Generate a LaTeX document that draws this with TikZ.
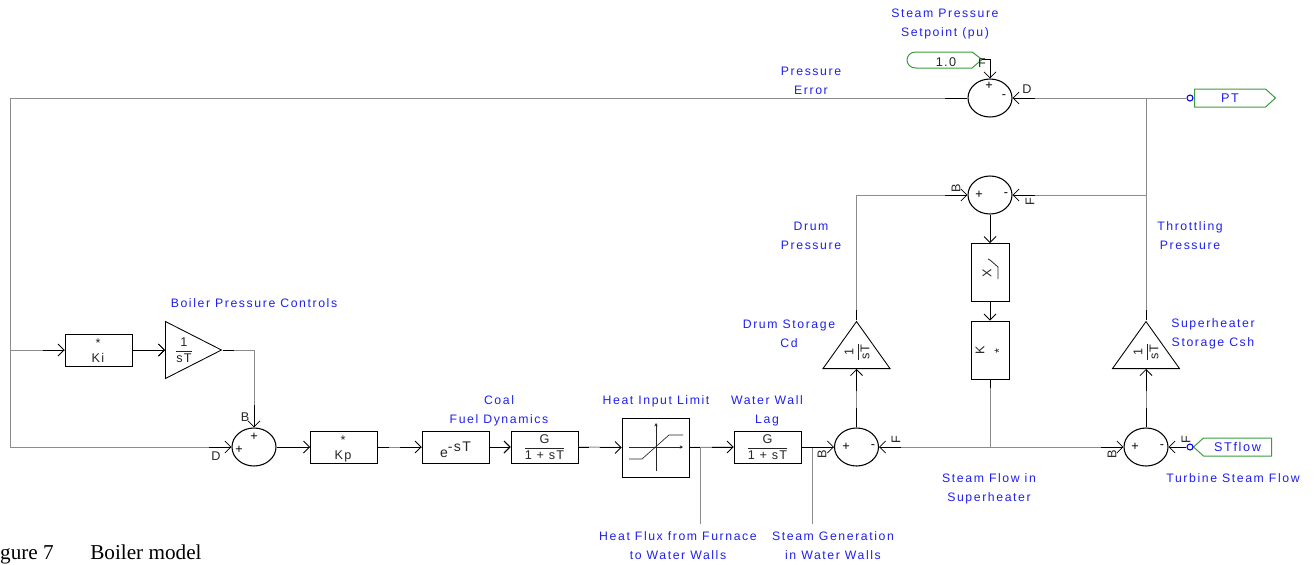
\documentclass[tikz,border=0pt]{standalone}
\usepackage{fontspec}
\setmainfont{Liberation Sans}
\newfontfamily\lblfont[LetterSpace=13]{Liberation Sans}
\newfontfamily\blkfont[LetterSpace=10]{Liberation Sans}
\newfontfamily\capfont{Liberation Serif}
\usetikzlibrary{positioning,arrows.meta,calc,shapes.geometric,shapes.symbols}
\definecolor{lblblue}{HTML}{2020F0}
\definecolor{taggreen}{HTML}{3C9C3C}
\definecolor{wiregrey}{HTML}{8C8C8C}
\definecolor{ink2}{HTML}{262626}
\newcommand{\frc}[2]{$\displaystyle\frac{\mbox{#1}}{\mbox{#2}}$}

\begin{document}
\begin{tikzpicture}[
  x=0.75pt, y=-0.75pt,
  font=\blkfont\fontsize{9.5}{11}\selectfont,
  >={Straight Barb[length=4.5pt,width=9pt,line width=0.6pt]},
  blk/.style={draw=black, line width=0.65pt, minimum width=50.25pt, minimum height=24pt,
              inner sep=0pt, align=center, text=ink2},
  vblk/.style={blk, minimum width=28.5pt, minimum height=43.5pt},
  sumnode/.style={draw=black, line width=0.8pt, ellipse, minimum width=33pt,
                  minimum height=28.5pt, inner sep=0pt},
  tri/.style={draw=black, line width=0.65pt, isosceles triangle, isosceles triangle stretches,
              inner sep=0pt, anchor=lower side},
  wire/.style={draw=wiregrey, line width=0.75pt},
  stb/.style={draw=black, line width=0.75pt},
  ar/.style={->, draw=black, line width=0.75pt},
  lbl/.style={font=\lblfont\fontsize{9.2}{14.25}\selectfont, text=lblblue, align=center, inner sep=0pt},
  sgn/.style={font=\fontsize{9.5}{10}\selectfont, text=black, inner sep=0pt},
  port/.style={font=\fontsize{9.5}{10}\selectfont, text=ink2, inner sep=0pt},
  vport/.style={port, rotate=90},
  sig/.style={draw=taggreen, line width=0.75pt, signal, signal pointer angle=84, inner sep=0pt,
              minimum height=13.5pt, font=\lblfont\fontsize{9.5}{11}\selectfont, text=lblblue},
  pin/.style={draw=blue, line width=0.8pt, circle, fill=white, inner sep=0pt, minimum size=4.5pt}
]
\useasboundingbox (0,0) rectangle (1316,564);

% ==== summing junctions
\node[sumnode] (topsum) at (990,98) {};
\node[sumnode] (midsum) at (990,195) {};
\node[sumnode] (boilsum) at (254,447) {};
\node[sumnode] (drumsum) at (856.5,447) {};
\node[sumnode] (shsum) at (1146,447) {};

% ==== forward path
\node[blk] (ki) at (98.5,350) {};
\node[blk] (kp) at (344,447) {};
\node[blk] (delay) at (455.5,447) {};
\node[blk] (fuel) at (544.5,447) {\frc{G}{1 + sT}};
\node[blk, minimum height=44.25pt] (limit) at (655.5,447.5) {};
\node[blk] (lag) at (767.5,447) {\frc{G}{1 + sT}};
\node[vblk] (root) at (990,272.5) {};
\node[vblk] (gain) at (990,350) {};

% ==== integrators
\node[tri, shape border rotate=0, minimum height=42pt, minimum width=42.75pt] (intc) at (165,350) {};
\node[tri, shape border rotate=90, minimum height=35.25pt, minimum width=50.25pt] (intd) at (856.5,369) {};
\node[tri, shape border rotate=90, minimum height=35.25pt, minimum width=50.25pt] (ints) at (1146,369) {};
\node[text=ink2, inner sep=0pt] (fracc) at (184,350) {\frc{1}{sT}};
\node[text=ink2, inner sep=0pt, rotate=90] (fracd) at (857,352) {\frc{1}{sT}};
\node[text=ink2, inner sep=0pt, rotate=90] (fracs) at (1146,352) {\frc{1}{sT}};

% ==== box texts
\node[text=ink2, inner sep=0pt] (kistar) at (98,343) {*};
\node[text=ink2, inner sep=0pt] (kitxt) at (98,358) {Ki};
\node[text=ink2, inner sep=0pt] (kpstar) at (343,440) {*};
\node[text=ink2, inner sep=0pt] (kptxt) at (343,456) {Kp};
\node[text=ink2, inner sep=0pt, font=\blkfont\fontsize{10.5}{12}\selectfont] (delaytxt) at (455.5,450) {e\raisebox{4.5pt}{-sT}};
\node[text=ink2, inner sep=0pt, rotate=90] (gaink) at (980,350) {K};
\node[text=ink2, inner sep=0pt, rotate=90] (gainstar) at (999,351) {*};
\node[text=ink2, inner sep=0pt, rotate=90] (rootx) at (987,273) {X};
\draw[line width=0.6pt, draw=ink2] (998,279) -- (998,267) -- (990,260) -- (988,259);

% ==== limiter curve
\draw[-{Stealth[length=2.5pt,width=2.5pt]}, line width=0.5pt, draw=ink2] (629,447) -- (683,447);
\draw[-{Stealth[length=2.5pt,width=2.5pt]}, line width=0.5pt, draw=ink2] (656,471) -- (656,423);
\draw[line width=0.5pt, draw=ink2] (629,459) -- (642,459) -- (669,435) -- (683,435);

% ==== tags
\node[sig, signal to=east, minimum width=60.75pt, anchor=west] (pt) at (1194,98) {PT\hspace{10pt}};
\node[sig, signal to=west, minimum width=58.5pt, anchor=east] (stflow) at (1272,447) {STflow};
\node[pin] (ptpin) at (1190,98) {};
\node[pin] (stpin) at (1190,447) {};
\draw[draw=taggreen, line width=0.75pt] (916,52) -- (972,52) -- (982,59.5) -- (972,68) -- (916,68)
     .. controls (904,68) and (904,52) .. (916,52) -- cycle;
\coordinate (sptip) at (982,59.5);
\node[text=ink2, inner sep=0pt] (sptxt) at (946,62) {1.0};

% ==== wire routing points
\coordinate (jtl) at (10,98);
\coordinate (jml) at (10,350);
\coordinate (jbl) at (10,447);
\coordinate (jpt) at (1146,98);
\coordinate (jthr) at (1146,195);
\coordinate (jdrum) at (856.5,195);
\coordinate (jflow) at (990,447);
\coordinate (jheat) at (700,447);
\coordinate (jgen) at (812,447);
\coordinate (theat) at (700,524);
\coordinate (tgen) at (812,524);

% ==== grey runs
\draw[wire] (topsum.west) -- (jtl) -- (jbl) -- (boilsum.west);
\draw[wire] (jml) -- (ki.west);
\draw[wire] (intc.apex) -| (boilsum.north);
\draw[wire] (boilsum.east) -- (kp.west);
\draw[wire] (kp.east) -- (delay.west);
\draw[wire] (fuel.east) -- (limit.west);
\draw[wire] (limit.east) -- (lag.west);
\draw[wire] (lag.east) -- (drumsum.west);
\draw[wire] (jheat) -- (theat);
\draw[wire] (jgen) -- (tgen);
\draw[wire] (ptpin) -- (topsum.east);
\draw[wire] (jpt) -- (ints.apex);
\draw[wire] (jthr) -- (midsum.east);
\draw[wire] (intd.apex) -- (jdrum) -- (midsum.west);
\draw[wire] (gain.south) -- (jflow);
\draw[wire] (drumsum.east) -- (shsum.west);
\draw[wire] (drumsum.north) -- (intd.lower side);
\draw[wire] (shsum.north) -- (ints.lower side);

% ==== black ends with tips
\foreach \t/\dx/\dy in {ki.west/-22/0, intc.lower side/-22/0, boilsum.north/0/-22, boilsum.west/-22/0,
    kp.west/-22/0, delay.west/-22/0, fuel.west/-22/0, limit.west/-22/0, lag.west/-22/0,
    drumsum.west/-22/0, drumsum.east/22/0, intd.lower side/0/22, ints.lower side/0/22,
    shsum.west/-22/0, topsum.east/22/0, midsum.west/-22/0, midsum.east/22/0} {
  \draw[ar] ($(\t)+(\dx,\dy)$) -- (\t);
}
\draw[ar] (delay.east) -- (fuel.west);
\draw[ar] (ki.east) -- (intc.lower side);
\draw[ar] (midsum.south) -- (root.north);
\draw[ar] (root.south) -- (gain.north);
\draw[ar] (stpin) -- (shsum.east);
\draw[ar] (sptip) -| (topsum.north);

% ==== black ends without tips
\foreach \t/\dx/\dy in {topsum.west/-22/0, intc.apex/11/0, boilsum.east/11/0, kp.east/11/0,
    fuel.east/11/0, limit.east/11/0, lag.east/11/0, gain.south/0/9,
    intd.apex/0/-10, ints.apex/0/-10, drumsum.north/0/-19, shsum.north/0/-19} {
  \draw[stb] (\t) -- ($(\t)+(\dx,\dy)$);
}

% ==== signs
\foreach \n/\x/\y/\s in {s1/989/86/+, s2/1004/97/-, s3/979/195/+, s4/1006/195/-, s5/254/437/+,
    s6/239/450/+, s7/846/447/+, s8/873/447/-, s9/1135/447/+, s10/1162/447/-} {
  \node[sgn] (\n) at (\x,\y) {\s};
}

% ==== port letters
\node[port] (pd) at (1027,89) {D};
\node[port] (pf) at (982,63) {F};
\node[vport] (pb2) at (956,188) {B};
\node[vport] (pf2) at (1030,202) {F};
\node[port] (pb3) at (245,417) {B};
\node[port] (pd3) at (216,456) {D};
\node[vport] (pb4) at (822,454) {B};
\node[vport] (pf4) at (896,440) {F};
\node[vport] (pb5) at (1112,454) {B};
\node[vport] (pf5) at (1186,440) {F};

% ==== captions
\node[lbl] (lsetp) at (945,24) {Steam Pressure\\Setpoint (pu)};
\node[lbl] (lerr) at (811,81) {Pressure\\Error};
\node[lbl] (ldrum) at (811,236) {Drum\\Pressure};
\node[lbl] (lcd) at (789,333.5) {Drum Storage\\Cd};
\node[lbl] (lthr) at (1190,236) {Throttling\\Pressure};
\node[lbl] (lcsh) at (1213,333.5) {Superheater\\Storage Csh};
\node[lbl] (lctl) at (254,303) {Boiler Pressure Controls};
\node[lbl] (lcoal) at (499,411) {Coal\\Fuel Dynamics};
\node[lbl] (llim) at (656,401) {Heat Input Limit};
\node[lbl] (lwall) at (767,411) {Water Wall\\Lag};
\node[lbl] (lflux) at (678,546) {Heat Flux from Furnace\\to Water Walls};
\node[lbl] (lgen) at (833,546) {Steam Generation\\in Water Walls};
\node[lbl] (lsfl) at (989,488.5) {Steam Flow in\\Superheater};
\node[lbl] (ltsf) at (1233,478) {Turbine Steam Flow};

% ==== figure caption
\node[anchor=base east, inner sep=0pt, font=\capfont\fontsize{15.9}{17}\selectfont] (figno) at (54,559) {gure 7};
\node[anchor=base west, inner sep=0pt, font=\capfont\fontsize{15.9}{17}\selectfont] (figcap) at (90,559) {Boiler model};

\end{tikzpicture}
\end{document}
